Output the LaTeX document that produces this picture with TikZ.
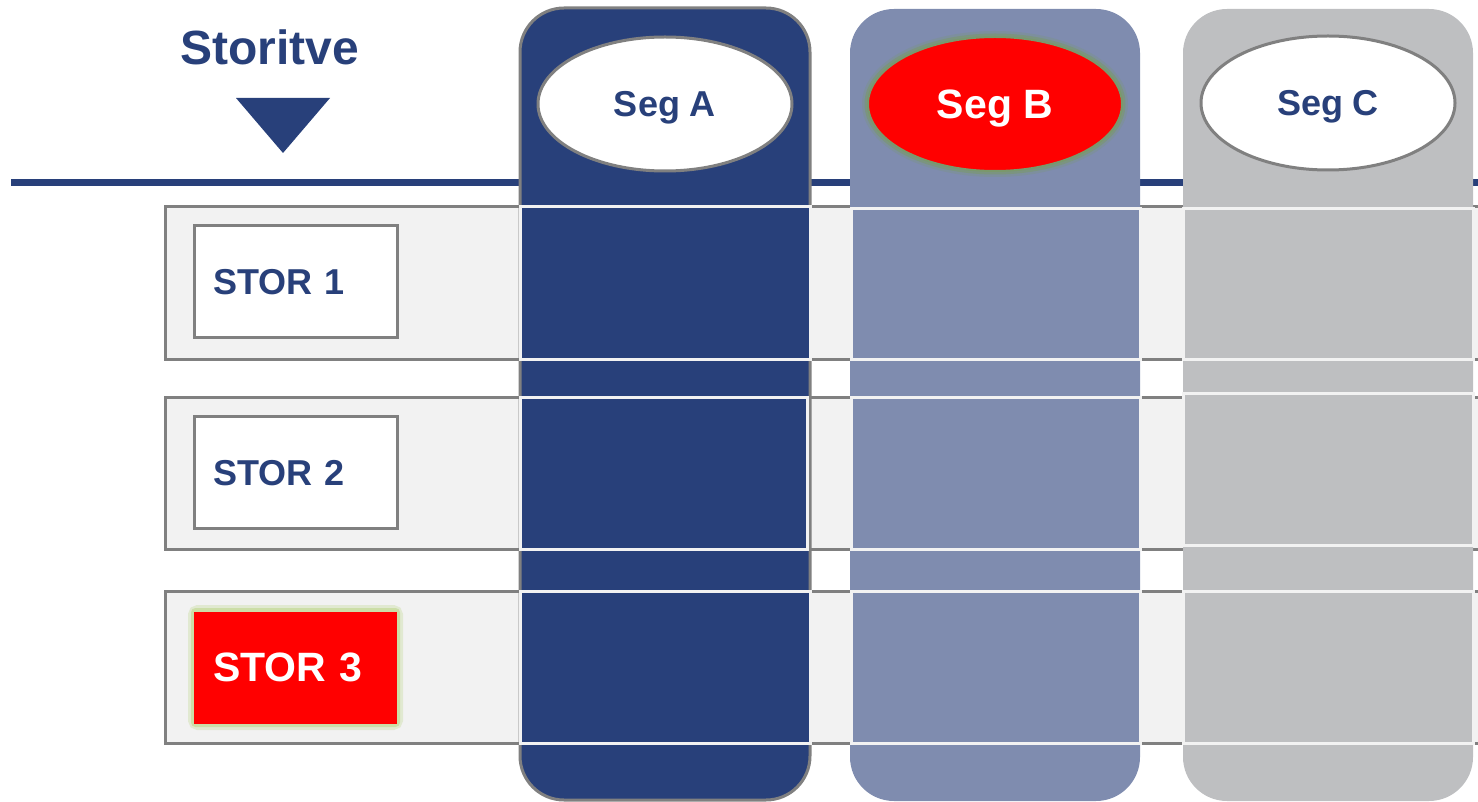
\documentclass[tikz,border=0pt]{standalone}
\usepackage{fontspec}
\setmainfont{Liberation Sans}
\usetikzlibrary{shapes.geometric}
\definecolor{navy}{RGB}{40,64,122}
\definecolor{slate}{RGB}{127,140,175}
\definecolor{silver}{RGB}{190,191,193}
\definecolor{band}{RGB}{242,242,242}
\definecolor{rim}{RGB}{128,128,128}
\definecolor{glowB}{RGB}{122,152,108}
\definecolor{glowS}{RGB}{196,218,150}
\tikzset{
  rowband/.style={fill=band, draw=rim, line width=3pt},
  colbox/.style={rounded corners=44pt},
  cellbox/.style={draw=band, line width=3pt},
  segoval/.style={ellipse, minimum width=254pt, minimum height=134pt, inner sep=0pt,
    text depth=0pt, font=\bfseries\fontsize{36}{40}\selectfont},
  storbox/.style={rectangle, minimum height=112pt, text width=165pt, inner xsep=19pt,
    inner ysep=0pt, text depth=0pt, align=left, font=\bfseries\fontsize{36}{40}\selectfont},
  heading/.style={text=navy, font=\bfseries\fontsize{48}{54}\selectfont, inner sep=0pt,
    text depth=0pt}
}
\begin{document}
\begin{tikzpicture}[x=1pt,y=-1pt]
\useasboundingbox (0,0) rectangle (1478,802);
\clip (0,0) rectangle (1478,802);

% heading and pointer
\node[heading] (title) at (270,47) {Storitve};
\fill[navy] (236,98) -- (330,98) -- (283,153) -- cycle;
\coordinate (ruleL) at (11,183);
\coordinate (ruleR) at (1478,183);
\draw[navy, line width=7pt] (ruleL) -- (ruleR);

% service rows
\draw[rowband] (165,207) rectangle (1500,359);
\draw[rowband] (165,397) rectangle (1500,549);
\draw[rowband] (165,591) rectangle (1500,743);

% segment columns
\draw[colbox, fill=navy, draw=rim, line width=3pt] (520,8) rectangle (810,800);
\fill[colbox, slate] (850,9) rectangle (1140,801);
\fill[colbox, silver] (1183,9) rectangle (1473,801);

% cells of column A
\draw[cellbox, fill=navy] (520,207) rectangle (810,359);
\draw[cellbox, fill=navy] (520,397) rectangle (807,549);
\draw[cellbox, fill=navy] (520,591) rectangle (810,743);
% cells of column B
\draw[cellbox, fill=slate] (851,209) rectangle (1140,359);
\draw[cellbox, fill=slate] (851,397) rectangle (1140,549);
\draw[cellbox, fill=slate] (851,591) rectangle (1140,743);
% cells of column C
\draw[cellbox, fill=silver] (1183,209) rectangle (1473,359);
\draw[cellbox, fill=silver] (1183,393) rectangle (1473,545);
\draw[cellbox, fill=silver] (1183,591) rectangle (1473,743);

% segment labels
\node[segoval, fill=white, draw=rim, line width=3pt, text=navy] (segA) at (665,104) {Seg A};
\node[segoval, draw=glowB, draw opacity=0.25, line width=12pt] (segBglow) at (995,104) {};
\node[segoval, draw=glowB, draw opacity=0.6, line width=7pt] (segBring) at (995,104) {};
\node[segoval, fill=red, draw=glowB, line width=2pt, text=white,
      font=\bfseries\fontsize{41}{46}\selectfont] (segB) at (995,104) {Seg B};
\node[segoval, fill=white, draw=rim, line width=3pt, text=navy] (segC) at (1328,103) {Seg C};

% service labels
\node[storbox, fill=white, draw=rim, line width=3pt, text=navy] (s1) at (295.5,282) {STOR 1};
\node[storbox, fill=white, draw=rim, line width=3pt, text=navy] (s2) at (295.5,472.5) {STOR 2};
\draw[glowS, opacity=0.35, line width=12pt, rounded corners=4pt] (194,611) rectangle (397,724);
\draw[glowS, opacity=0.7, line width=6pt, rounded corners=2pt] (194,611) rectangle (397,724);
\node[storbox, fill=red, text=white, font=\bfseries\fontsize{41}{46}\selectfont] (s3) at (295.5,667.5) {STOR 3};
\end{tikzpicture}
\end{document}
